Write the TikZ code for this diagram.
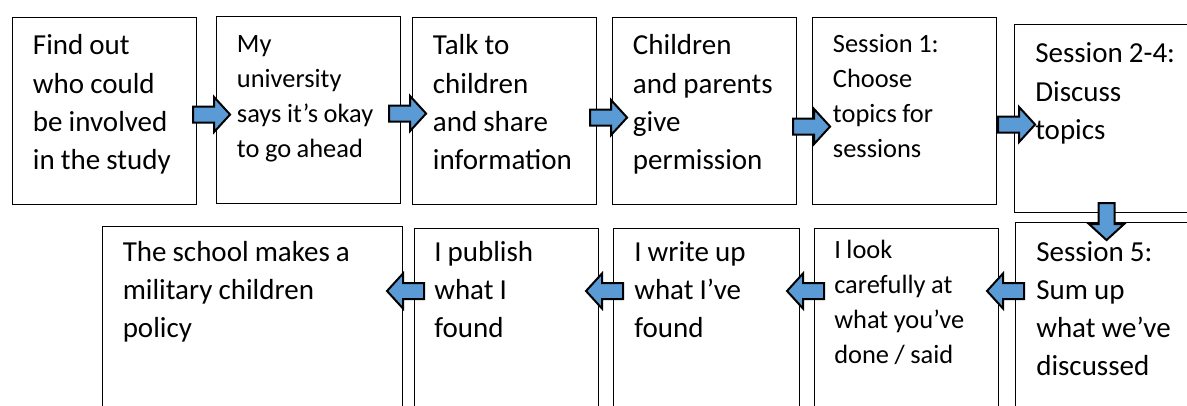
\documentclass[tikz,border=0pt]{standalone}
\usepackage{fontspec}
\setmainfont{Carlito}
\usetikzlibrary{calc}
\definecolor{arrowblue}{HTML}{5B9BD5}
\newcommand{\bigtxt}{\fontsize{21.75pt}{28.7pt}\selectfont}
\newcommand{\smalltxt}{\fontsize{19.8pt}{26.25pt}\selectfont}
\tikzset{
  stepbox/.style={draw=black, line width=0.8pt, fill=white, anchor=north west, inner sep=0pt},
  textbase/.style={anchor=base west, inner sep=0pt, text width=290*0.75pt, align=left,
    execute at begin node={\spaceskip=0.21em\relax\xspaceskip=0.21em\relax}},
  bigtext/.style={textbase, font=\bigtxt},
  smalltext/.style={textbase, font=\smalltxt},
  arrowshape/.style={fill=arrowblue, draw=black, line width=1.5pt, line join=miter},
  rarrow/.pic={\draw[arrowshape] (0,-8) -- (21,-8) -- (21,-17.5) -- (37,0) -- (21,17.5) -- (21,8) -- (0,8) -- cycle;}
}
\begin{document}
\begin{tikzpicture}[x=0.75pt,y=-0.75pt]
\useasboundingbox (0,0) rectangle (1187,406);
\clip (0,0) rectangle (1187,406);
% top row boxes
\node[stepbox, minimum width=184*0.75pt, minimum height=187*0.75pt] (b1) at (12,17) {};
\node[stepbox, minimum width=184*0.75pt, minimum height=187*0.75pt] (b2) at (216,16) {};
\node[stepbox, minimum width=184*0.75pt, minimum height=187*0.75pt] (b3) at (412,17) {};
\node[stepbox, minimum width=184*0.75pt, minimum height=187*0.75pt] (b4) at (612,17) {};
\node[stepbox, minimum width=184*0.75pt, minimum height=187*0.75pt] (b5) at (812,17) {};
\node[stepbox, minimum width=190*0.75pt, minimum height=188*0.75pt] (b6) at (1014,24) {};
% bottom row boxes
\node[stepbox, minimum width=300*0.75pt, minimum height=200*0.75pt] (c1) at (102,226) {};
\node[stepbox, minimum width=184*0.75pt, minimum height=200*0.75pt] (c2) at (414,228) {};
\node[stepbox, minimum width=186*0.75pt, minimum height=200*0.75pt] (c3) at (613,228) {};
\node[stepbox, minimum width=184*0.75pt, minimum height=200*0.75pt] (c4) at (814,228) {};
\node[stepbox, minimum width=190*0.75pt, minimum height=200*0.75pt] (c5) at (1015,222) {};
% texts
\node[bigtext] (t1) at ($(b1.north west)+(20.7,38)$) {Find out\\who could\\be involved\\in the study};
\node[smalltext] (t2) at ($(b2.north west)+(20.7,37)$) {My\\university\\says it’s okay\\to go ahead};
\node[bigtext] (t3) at ($(b3.north west)+(20.7,38)$) {Talk to\\children\\and share\\information};
\node[bigtext] (t4) at ($(b4.north west)+(20.7,38)$) {Children\\and parents\\give\\permission};
\node[smalltext] (t5) at ($(b5.north west)+(20.7,36)$) {Session 1:\\Choose\\topics for\\sessions};
\node[bigtext] (t6) at ($(b6.north west)+(21,39)$) {Session 2-4:\\Discuss\\topics};
\node[bigtext] (u1) at ($(c1.north west)+(20.5,35)$) {The school makes a\\military children\\policy};
\node[bigtext] (u2) at ($(c2.north west)+(20,33)$) {I publish\\what I\\found};
\node[bigtext] (u3) at ($(c3.north west)+(21,33)$) {I write up\\what I’ve\\found};
\node[smalltext] (u4) at ($(c4.north west)+(20,30)$) {I look\\carefully at\\what you’ve\\done / said};
\node[bigtext] (u5) at ($(c5.north west)+(21,39)$) {Session 5:\\Sum up\\what we’ve\\discussed};
% block arrows
\pic at ($(b1.east)+(-4,3.5)$) {rarrow};
\pic at ($(b2.east)+(-12,3.5)$) {rarrow};
\pic at ($(b3.east)+(-7,6.5)$) {rarrow};
\pic at ($(b4.east)+(-4,15.5)$) {rarrow};
\pic at ($(b5.east)+(1,13.5)$) {rarrow};
\pic[rotate=-90] at ($(b6.south)+(-3,-10)$) {rarrow};
\pic[rotate=180] at ($(c2.north west)+(10,63)$) {rarrow};
\pic[rotate=180] at ($(c3.north west)+(10,63)$) {rarrow};
\pic[rotate=180] at ($(c4.north west)+(10,63)$) {rarrow};
\pic[rotate=180] at ($(c5.north west)+(9,69)$) {rarrow};
\end{tikzpicture}
\end{document}
